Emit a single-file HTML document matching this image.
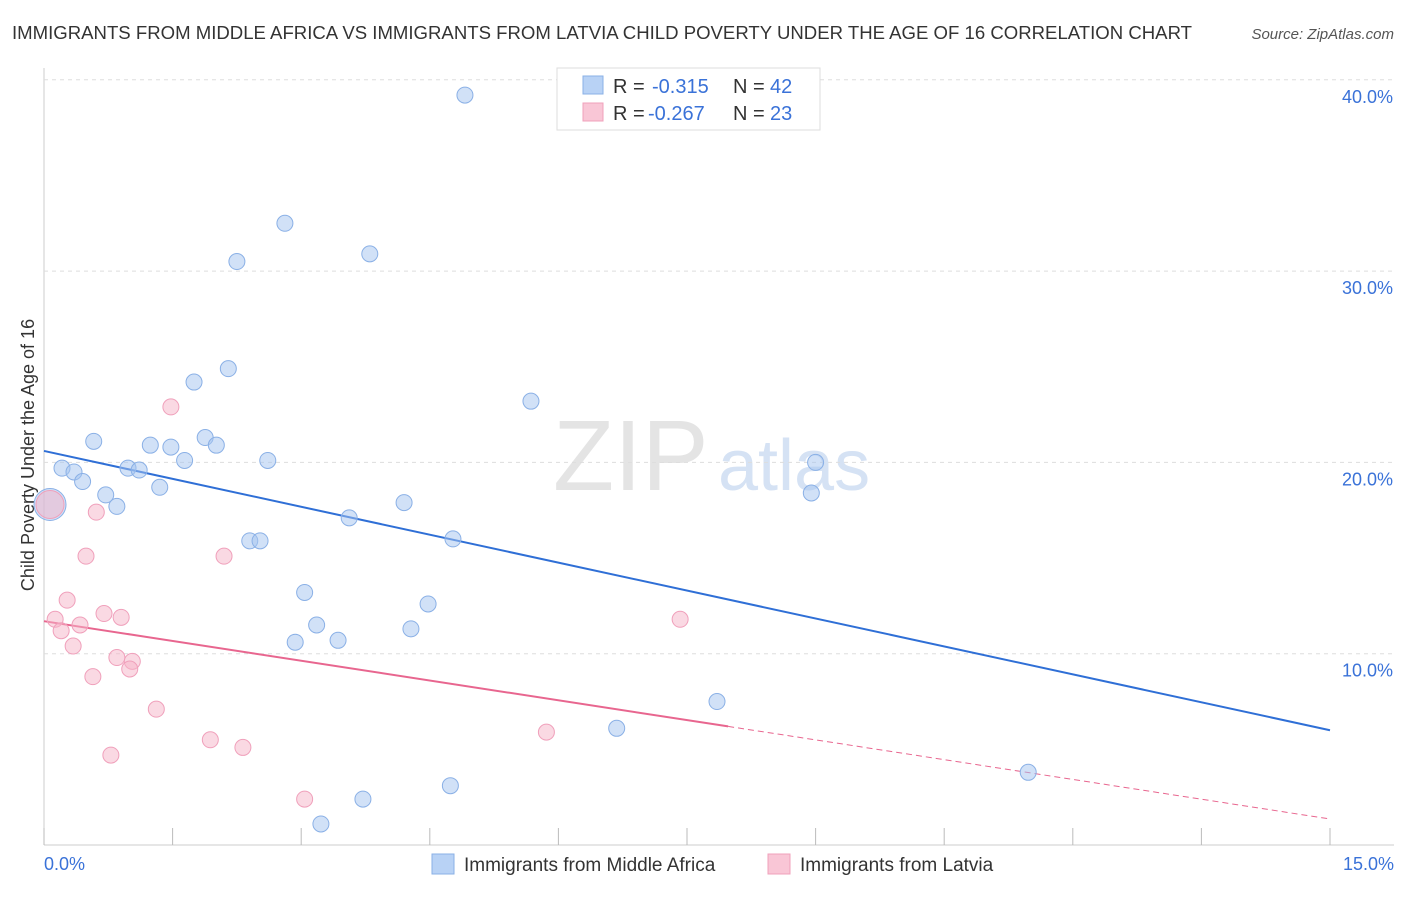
<!DOCTYPE html>
<html><head><meta charset="utf-8"><style>
body{margin:0;background:#fff;font-family:"Liberation Sans",sans-serif;}
svg text{font-family:"Liberation Sans",sans-serif;}
</style></head><body>
<svg id="c" width="1406" height="892">
<text x="12" y="39" font-size="18" fill="#333" textLength="1180" lengthAdjust="spacingAndGlyphs">IMMIGRANTS FROM MIDDLE AFRICA VS IMMIGRANTS FROM LATVIA CHILD POVERTY UNDER THE AGE OF 16 CORRELATION CHART</text>
<text x="1394" y="39" font-size="15" fill="#555" font-style="italic" text-anchor="end">Source: ZipAtlas.com</text>
<text x="553" y="490" font-size="100" fill="#e4e4e4" font-family="Liberation Serif">ZIP</text>
<text x="718" y="490" font-size="72" fill="#d5e2f4">atlas</text>
<text transform="translate(34,455) rotate(-90)" font-size="18" fill="#333" text-anchor="middle">Child Poverty Under the Age of 16</text>
<g id="grid"></g><g id="lines"></g><g id="pts"></g>
<g>
<rect x="557" y="68" width="263" height="62" fill="#fff" stroke="#ddd"/>
<rect x="583" y="76" width="20" height="18" fill="#b8d2f5" stroke="#8ab0e6"/>
<rect x="583" y="103" width="20" height="18" fill="#f9c6d6" stroke="#f0a0bb"/>
<text x="613" y="93" font-size="20" fill="#333">R =</text>
<text x="652" y="93" font-size="20" fill="#3a72d8">-0.315</text>
<text x="733" y="93" font-size="20" fill="#333">N =</text>
<text x="770" y="93" font-size="20" fill="#3a72d8">42</text>
<text x="613" y="120" font-size="20" fill="#333">R =</text>
<text x="648" y="120" font-size="20" fill="#3a72d8">-0.267</text>
<text x="733" y="120" font-size="20" fill="#333">N =</text>
<text x="770" y="120" font-size="20" fill="#3a72d8">23</text>
</g>
<g>
<rect x="432" y="854" width="22" height="20" fill="#b8d2f5" stroke="#8ab0e6"/>
<text x="464" y="871" font-size="19" fill="#333">Immigrants from Middle Africa</text>
<rect x="768" y="854" width="22" height="20" fill="#f9c6d6" stroke="#f0a0bb"/>
<text x="800" y="871" font-size="19" fill="#333">Immigrants from Latvia</text>
</g>
<text x="44" y="870" font-size="18" fill="#3a72d8">0.0%</text>
<text x="1394" y="870" font-size="18" fill="#3a72d8" text-anchor="end">15.0%</text>
</svg>
<script>
const yTicks=[10,20,30,40];
const xTicks=[0,1.5,3,4.5,6,7.5,9,10.5,12,13.5,15];
const blueX=[4.91,2.81,2.25,3.80,2.15,1.75,5.68,0.58,1.24,1.48,1.88,2.01,0.21,0.35,0.98,1.11,1.64,2.61,0.45,1.35,0.72,0.85,4.20,3.56,2.40,2.52,4.77,3.04,4.48,3.18,4.28,2.93,3.43,9.00,8.95,7.85,6.68,4.74,3.72,3.23,11.48,0.07];
const blueY=[39.2,32.5,30.5,30.9,24.9,24.2,23.2,21.1,20.9,20.8,21.3,20.9,19.7,19.5,19.7,19.6,20.1,20.1,19.0,18.7,18.3,17.7,17.9,17.1,15.9,15.9,16.0,13.2,12.6,11.5,11.3,10.6,10.7,20.0,18.4,7.5,6.1,3.1,2.4,1.1,3.8,17.8];
const pinkX=[0.07,1.48,0.61,0.49,2.10,0.27,0.13,0.70,0.90,0.42,0.20,0.34,0.85,1.03,1.00,0.57,1.31,1.94,2.32,0.78,3.04,5.86,7.42];
const pinkY=[17.8,22.9,17.4,15.1,15.1,12.8,11.8,12.1,11.9,11.5,11.2,10.4,9.8,9.6,9.2,8.8,7.1,5.5,5.1,4.7,2.4,5.9,11.8];
const blueTrend=[20.6,6.0];
const pinkTrend=[11.7,1.36];
const pinkSolidEnd=7.98;
const NS="http://www.w3.org/2000/svg";
const X=v=>44+v*(1286/15);
const Y=v=>845-v*19.13;
function mk(t,a,p){const e=document.createElementNS(NS,t);for(const k in a)e.setAttribute(k,a[k]);p.appendChild(e);return e;}
const grid=document.getElementById('grid'),lines=document.getElementById('lines'),pts=document.getElementById('pts');
let ax=mk('line',{x1:44,y1:68,x2:44,y2:845,stroke:'#ccc'},grid);


let bx=mk('line',{x1:44,y1:845,x2:1394,y2:845,stroke:'#ccc'},grid);


yTicks.forEach(t=>{
 let g=mk('line',{x1:44,x2:1394,y1:Y(t),y2:Y(t),stroke:'#ddd','stroke-dasharray':'4,4'},grid);
 
 
 let l=mk('text',{x:1393,y:Y(t)+23,'font-size':18,fill:'#3a72d8','text-anchor':'end'},grid);l.textContent=t.toFixed(1)+'%';
 
 
});
xTicks.forEach(t=>{
 let k=mk('line',{x1:X(t),x2:X(t),y1:828,y2:845,stroke:'#bbb'},grid);
 
 
});
let bl=mk('line',{x1:X(0),y1:Y(blueTrend[0]),x2:X(15),y2:Y(blueTrend[1]),stroke:'#2f6fd6','stroke-width':2},lines);


const py=x=>pinkTrend[0]+(pinkTrend[1]-pinkTrend[0])*x/15;
let pl=mk('line',{x1:X(0),y1:Y(pinkTrend[0]),x2:X(pinkSolidEnd),y2:Y(py(pinkSolidEnd)),stroke:'#e8668f','stroke-width':2},lines);


let pd=mk('line',{x1:X(pinkSolidEnd),y1:Y(py(pinkSolidEnd)),x2:X(15),y2:Y(pinkTrend[1]),stroke:'#e8668f','stroke-width':1,'stroke-dasharray':'6,4'},lines);


blueX.forEach((x,i)=>{
 const big=i===blueX.length-1;
 let c=mk('circle',{cx:X(x),cy:Y(blueY[i]),r:big?16:8,fill:'rgba(164,196,240,0.5)',stroke:'#8ab0e6','stroke-width':1},pts);
 
 
});
pinkX.forEach((x,i)=>{
 const big=i===0;
 let c=mk('circle',{cx:X(x),cy:Y(pinkY[i]),r:big?14:8,fill:'rgba(245,180,200,0.5)',stroke:'#f0a0bb','stroke-width':1},pts);
 
 
});
</script>
</body></html>
